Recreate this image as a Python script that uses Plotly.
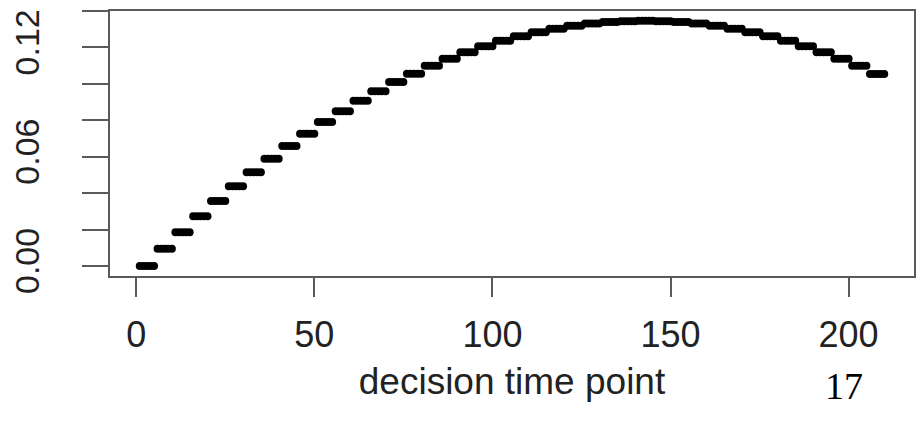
import plotly.graph_objects as go

# Values: one value per block of 5 decision time points
block_values = [0.0000, 0.0094, 0.0185, 0.0273, 0.0357, 0.0438, 0.0515, 0.0589,
                0.0659, 0.0726, 0.0790, 0.0850, 0.0907, 0.0960, 0.1010, 0.1056,
                0.1099, 0.1138, 0.1174, 0.1207, 0.1236, 0.1262, 0.1284, 0.1303,
                0.1319, 0.1331, 0.1339, 0.1344, 0.1346, 0.1344, 0.1339, 0.1331,
                0.1319, 0.1303, 0.1284, 0.1262, 0.1236, 0.1207, 0.1174, 0.1138,
                0.1099, 0.1054]
block_size = 5
decision_points = list(range(1, 211))

y_tick_vals = [0.00, 0.02, 0.04, 0.06, 0.08, 0.10, 0.12, 0.14]
y_tick_text = ["0.00", "", "", "0.06", "", "", "0.12", ""]
x_tick_vals = [0, 50, 100, 150, 200]
x_tick_text = ["0", "50", "100", "150", "200"]
x_title = "decision time point"
page_number = "17"

yvals = [block_values[(t - 1) // block_size] for t in decision_points]

fig = go.Figure()
fig.add_trace(go.Scatter(
    x=decision_points, y=yvals, mode="markers",
    marker=dict(color="black", size=8, line=dict(width=0)),
    showlegend=False, hoverinfo="skip",
))

axis_col = "#5a5a5a"
fig.update_layout(
    width=920, height=425,
    margin=dict(l=110, r=4, t=11, b=149),
    paper_bgcolor="white", plot_bgcolor="white",
    font=dict(family="Liberation Sans, Arial, sans-serif", color="#222"),
    xaxis=dict(
        range=[-7.36, 218.36], tickmode="array", tickvals=x_tick_vals, ticktext=x_tick_text,
        ticks="outside", ticklen=19, tickwidth=1.5, tickcolor=axis_col,
        showline=True, linecolor=axis_col, linewidth=1.5, mirror=True,
        showgrid=False, zeroline=False,
        tickfont=dict(size=36), ticklabelstandoff=7,
        title=dict(text=x_title, font=dict(size=37), standoff=14),
    ),
    yaxis=dict(
        range=[-0.0055, 0.1400], tickmode="array", tickvals=y_tick_vals, ticktext=y_tick_text,
        ticks="outside", ticklen=26, tickwidth=1.5, tickcolor=axis_col,
        showline=True, linecolor=axis_col, linewidth=1.5, mirror=True,
        showgrid=False, zeroline=False,
        tickfont=dict(size=34), tickangle=-90, ticklabelstandoff=30,
    ),
    annotations=[dict(
        text=page_number, xref="paper", yref="paper", x=0.913, y=-0.415,
        xanchor="center", yanchor="middle", showarrow=False,
        font=dict(family="Liberation Serif, Times New Roman, serif", size=38, color="black"),
    )],
)

fig.write_html("out.html")
